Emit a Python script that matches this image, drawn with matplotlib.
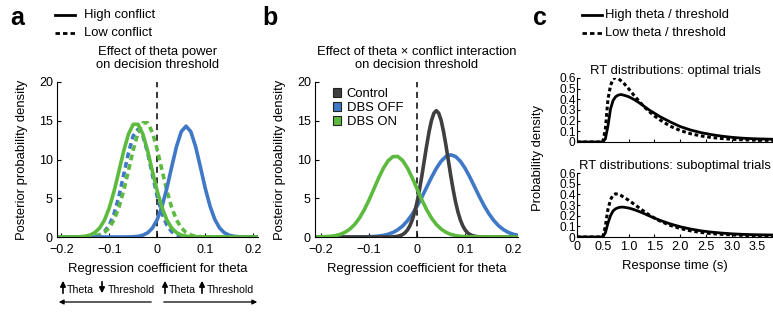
import numpy as np
import matplotlib
matplotlib.use("Agg")
import matplotlib.pyplot as plt
from matplotlib.lines import Line2D
from matplotlib.patches import Rectangle

plt.rcParams["font.family"] = ["Liberation Sans", "DejaVu Sans"]
plt.rcParams["axes.unicode_minus"] = True

# ---- data ----
coef = [-0.21, -0.20, -0.19, -0.18, -0.17, -0.16, -0.15, -0.14, -0.13, -0.12, -0.11,
        -0.10, -0.09, -0.08, -0.07, -0.06, -0.05, -0.04, -0.03, -0.02, -0.01, 0.00,
        0.01, 0.02, 0.03, 0.04, 0.05, 0.06, 0.07, 0.08, 0.09, 0.10, 0.11, 0.12,
        0.13, 0.14, 0.15, 0.16, 0.17, 0.18, 0.19, 0.20, 0.21]

# panel a: theta power effect (DBS OFF = blue, DBS ON = green)
a_green_high = [0, 0, 0, 0, 0.01, 0.04, 0.10, 0.25, 0.57, 1.17, 2.19, 3.77, 5.91, 8.47,
                11.10, 13.28, 14.54, 14.54, 13.28, 11.10, 8.47, 5.91, 3.77, 2.19, 1.17,
                0.57, 0.25, 0.10, 0.04, 0.01, 0, 0, 0, 0, 0, 0, 0, 0, 0, 0, 0, 0, 0]
a_blue_high = [0, 0, 0, 0, 0, 0, 0, 0, 0, 0, 0, 0, 0, 0, 0, 0.01, 0.03, 0.09, 0.23, 0.54,
               1.16, 2.26, 3.98, 6.30, 9.02, 11.65, 13.59, 14.30, 13.59, 11.65, 9.02,
               6.30, 3.98, 2.26, 1.16, 0.54, 0.23, 0.09, 0.03, 0.01, 0, 0, 0]
a_blue_low = [0, 0, 0, 0, 0, 0, 0.01, 0.03, 0.10, 0.28, 0.69, 1.53, 3.01, 5.22, 8.01,
              10.88, 13.07, 13.90, 13.07, 10.88, 8.01, 5.22, 3.01, 1.53, 0.69, 0.28,
              0.10, 0.03, 0.01, 0, 0, 0, 0, 0, 0, 0, 0, 0, 0, 0, 0, 0, 0]
a_green_low = [0, 0, 0, 0, 0, 0, 0.01, 0.04, 0.10, 0.26, 0.58, 1.19, 2.22, 3.82, 5.99,
               8.59, 11.25, 13.47, 14.73, 14.73, 13.47, 11.25, 8.59, 5.99, 3.82, 2.22,
               1.19, 0.58, 0.26, 0.10, 0.04, 0.01, 0, 0, 0, 0, 0, 0, 0, 0, 0, 0, 0]

# panel b: theta x conflict interaction (control read at a finer step: narrow peak)
ctrl_coef = [-0.21, -0.055, -0.05, -0.045, -0.04, -0.035, -0.03, -0.025, -0.02, -0.015,
             -0.01, -0.005, 0.0, 0.005, 0.01, 0.015, 0.02, 0.025, 0.03, 0.035, 0.04,
             0.045, 0.05, 0.055, 0.06, 0.065, 0.07, 0.075, 0.08, 0.085, 0.09, 0.095,
             0.10, 0.105, 0.11, 0.115, 0.12, 0.125, 0.13, 0.135, 0.21]
b_control = [0, 0, 0.02, 0.05, 0.10, 0.18, 0.32, 0.55, 0.91, 1.45, 2.21, 3.23, 4.53,
             6.12, 7.93, 9.89, 11.84, 13.62, 15.05, 15.98, 16.30, 15.98, 15.05, 13.62,
             11.84, 9.89, 7.93, 6.12, 4.53, 3.23, 2.21, 1.45, 0.91, 0.55, 0.32, 0.18,
             0.10, 0.05, 0.02, 0, 0]
b_dbs_off = [0, 0, 0, 0, 0, 0, 0, 0, 0, 0.01, 0.02, 0.03, 0.06, 0.12, 0.21, 0.36, 0.59,
             0.94, 1.43, 2.10, 2.95, 3.98, 5.16, 6.43, 7.70, 8.85, 9.78, 10.39, 10.60,
             10.39, 9.78, 8.85, 7.70, 6.43, 5.16, 3.98, 2.95, 2.10, 1.43, 0.94, 0.59,
             0.36, 0.21]
b_dbs_on = [0.01, 0.02, 0.05, 0.09, 0.18, 0.34, 0.61, 1.02, 1.62, 2.44, 3.51, 4.78,
            6.19, 7.62, 8.89, 9.86, 10.38, 10.38, 9.86, 8.89, 7.62, 6.19, 4.78, 3.51,
            2.44, 1.62, 1.02, 0.61, 0.34, 0.18, 0.09, 0.05, 0.02, 0.01, 0, 0, 0, 0, 0,
            0, 0, 0, 0]

# panel c: simulated RT distributions
rt = [0, 0.5, 0.55, 0.6, 0.65, 0.7, 0.75, 0.8, 0.85, 0.9, 1.0, 1.1, 1.2, 1.3, 1.4,
      1.5, 1.6, 1.8, 2.0, 2.2, 2.4, 2.6, 2.8, 3.0, 3.2, 3.4, 3.6, 3.8]
opt_high = [0, 0, 0.03, 0.15, 0.31, 0.39, 0.425, 0.44, 0.445, 0.44, 0.425, 0.40, 0.37,
            0.335, 0.30, 0.27, 0.24, 0.19, 0.145, 0.113, 0.088, 0.07, 0.055, 0.044,
            0.036, 0.031, 0.028, 0.026]
opt_low = [0, 0, 0.12, 0.40, 0.53, 0.59, 0.605, 0.595, 0.575, 0.555, 0.50, 0.44, 0.385,
           0.33, 0.285, 0.245, 0.21, 0.15, 0.108, 0.078, 0.057, 0.043, 0.033, 0.026,
           0.021, 0.018, 0.016, 0.015]
sub_high = [0, 0, 0.04, 0.13, 0.20, 0.245, 0.265, 0.275, 0.28, 0.28, 0.272, 0.258, 0.24,
            0.22, 0.198, 0.178, 0.158, 0.124, 0.096, 0.075, 0.058, 0.046, 0.037, 0.03,
            0.025, 0.022, 0.02, 0.019]
sub_low = [0, 0, 0.10, 0.26, 0.35, 0.395, 0.405, 0.40, 0.39, 0.375, 0.345, 0.31, 0.275,
           0.24, 0.207, 0.178, 0.152, 0.11, 0.08, 0.058, 0.043, 0.032, 0.025, 0.02,
           0.016, 0.014, 0.012, 0.011]

GREEN = "#5cbb3e"
BLUE = "#3f78c6"
GRAY = "#3f3f3f"

FS = 9.4    # labels, titles, legends
TFS = 9.0   # tick labels

W, H = 773, 312
fig = plt.figure(figsize=(W / 100, H / 100), dpi=100)


def fx(px):
    return px / W


def fy(py):
    return 1 - py / H


def box(x0, y0, x1, y1):
    # pixel box (top-left origin) -> figure rect
    return [fx(x0), fy(y1), fx(x1) - fx(x0), fy(y0) - fy(y1)]


def style(ax, fs=TFS):
    for s in ["top", "right"]:
        ax.spines[s].set_visible(False)
    ax.tick_params(direction="in", length=3, labelsize=fs, pad=3)
    ax.tick_params(axis="x", pad=5)


LW = 2.6
DASH = (0, (1.6, 1.1))

# ---- panel a ----
ax = fig.add_axes(box(57, 82, 258, 237))
style(ax)
ax.plot(coef, a_blue_low, color=BLUE, lw=LW, ls=DASH)
ax.plot(coef, a_green_low, color=GREEN, lw=LW, ls=DASH)
ax.plot(coef, a_blue_high, color=BLUE, lw=LW, solid_joinstyle="round")
ax.plot(coef, a_green_high, color=GREEN, lw=LW, solid_joinstyle="round")
ax.axvline(0, color="k", lw=1.1, ls=(0, (4, 3)), zorder=0)
ax.set_xlim(-0.209, 0.21)
ax.set_ylim(0, 20)
ax.set_xticks([-0.2, -0.1, 0, 0.1, 0.2])
ax.set_xticklabels(["\u22120.2", "\u22120.1", "0", "0.1", "0.2"])
ax.set_yticks([0, 5, 10, 15, 20])
ax.set_xlabel("Regression coefficient for theta", fontsize=FS, labelpad=5)
ax.set_ylabel("Posterior probability density", fontsize=FS, labelpad=8)
ax.set_title("Effect of theta power\non decision threshold", fontsize=FS,
             linespacing=1.1, pad=10)

# legend a
fig.add_artist(Line2D([fx(55), fx(75)], [fy(15), fy(15)], color="k", lw=2))
fig.add_artist(Line2D([fx(55), fx(75)], [fy(33), fy(33)], color="k", lw=2, ls=(0, (1.6, 1.1))))
fig.text(fx(84), fy(15), "High conflict", fontsize=FS, va="center")
fig.text(fx(84), fy(33), "Low conflict", fontsize=FS, va="center")

# direction arrows under panel a
arrow_kw = dict(arrowstyle="-|>", lw=0.9, color="k", mutation_scale=7)
ax.annotate("", xy=(fx(56), fy(302)), xytext=(fx(154), fy(302)),
            xycoords="figure fraction", arrowprops=arrow_kw)
ax.annotate("", xy=(fx(260), fy(302)), xytext=(fx(161), fy(302)),
            xycoords="figure fraction", arrowprops=arrow_kw)
small_kw = dict(arrowstyle="-|>", lw=1.2, color="k", mutation_scale=8)
for x0, up in [(63, True), (102, False), (165, True), (202, True)]:
    top, bot = (fy(278), fy(296)) if up else (fy(296), fy(279))
    ax.annotate("", xy=(fx(x0), top), xytext=(fx(x0), bot),
                xycoords="figure fraction", arrowprops=small_kw)
for x0, txt in [(67, "Theta"), (108, "Threshold"), (169, "Theta"), (207, "Threshold")]:
    fig.text(fx(x0), fy(290), txt, fontsize=7.6, va="center", ha="left")

fig.text(fx(10), fy(18), "a", fontsize=18, fontweight="bold", va="center")

# ---- panel b ----
ax = fig.add_axes(box(315, 82, 518, 237))
style(ax)
ax.plot(coef, b_dbs_off, color=BLUE, lw=LW, solid_joinstyle="round")
ax.plot(ctrl_coef, b_control, color=GRAY, lw=LW, solid_joinstyle="round")
ax.plot(coef, b_dbs_on, color=GREEN, lw=LW, solid_joinstyle="round")
ax.axvline(0, color="k", lw=1.1, ls=(0, (4, 3)), zorder=0)
ax.set_xlim(-0.2125, 0.21)
ax.set_ylim(0, 20)
ax.set_xticks([-0.2, -0.1, 0, 0.1, 0.2])
ax.set_xticklabels(["\u22120.2", "\u22120.1", "0", "0.1", "0.2"])
ax.set_yticks([0, 5, 10, 15, 20])
ax.set_xlabel("Regression coefficient for theta", fontsize=FS, labelpad=5)
ax.set_ylabel("Posterior probability density", fontsize=FS, labelpad=8)
ax.set_title("Effect of theta \u00d7 conflict interaction\non decision threshold",
             fontsize=FS, linespacing=1.1, pad=10)
handles = [Rectangle((0, 0), 1, 1, facecolor=c, edgecolor="#222222", lw=0.8)
           for c in [GRAY, BLUE, GREEN]]
ax.legend(handles, ["Control", "DBS OFF", "DBS ON"], loc="upper left",
          bbox_to_anchor=(0.05, 1.01), frameon=False, fontsize=FS, handlelength=0.65,
          handleheight=0.65, handletextpad=0.4, labelspacing=0.15, borderaxespad=0.2)

fig.text(fx(262), fy(18), "b", fontsize=18, fontweight="bold", va="center")

# ---- panel c ----
axc1 = fig.add_axes(box(577, 78, 773, 142))
axc2 = fig.add_axes(box(577, 173, 773, 237))
for axc, hi, lo, ttl in [(axc1, opt_high, opt_low, "RT distributions: optimal trials"),
                         (axc2, sub_high, sub_low, "RT distributions: suboptimal trials")]:
    style(axc, fs=8.6)
    axc.tick_params(length=2)
    axc.tick_params(axis="y", pad=1)
    axc.tick_params(axis="x", pad=3)
    axc.plot(rt, hi, color="k", lw=2.0, solid_joinstyle="round")
    axc.plot(rt, lo, color="k", lw=2.2, ls=(0, (1.2, 0.9)))
    axc.set_xlim(0, 3.8)
    axc.set_ylim(0, 0.6)
    axc.set_yticks([0, 0.1, 0.2, 0.3, 0.4, 0.5, 0.6])
    axc.set_yticklabels(["0", "0.1", "0.2", "0.3", "0.4", "0.5", "0.6"])
    axc.set_xticks([0, 0.5, 1.0, 1.5, 2.0, 2.5, 3.0, 3.5])
    axc.set_title(ttl, fontsize=FS, pad=3)
axc1.tick_params(labelbottom=False)
axc2.tick_params(axis="x", labelsize=TFS)
axc2.set_xticklabels(["0", "0.5", "1.0", "1.5", "2.0", "2.5", "3.0", "3.5"])
axc2.set_xlabel("Response time (s)", fontsize=FS, labelpad=5)
fig.text(fx(538), fy(158), "Probability density", fontsize=FS, rotation=90,
         va="center", ha="center")

fig.add_artist(Line2D([fx(582), fx(602)], [fy(15), fy(15)], color="k", lw=2))
fig.add_artist(Line2D([fx(582), fx(602)], [fy(33), fy(33)], color="k", lw=2, ls=(0, (1.6, 1.1))))
fig.text(fx(605), fy(15), "High theta / threshold", fontsize=FS, va="center")
fig.text(fx(605), fy(33), "Low theta / threshold", fontsize=FS, va="center")
fig.text(fx(533), fy(18), "c", fontsize=18, fontweight="bold", va="center")

fig.savefig("out.png", dpi=100)
